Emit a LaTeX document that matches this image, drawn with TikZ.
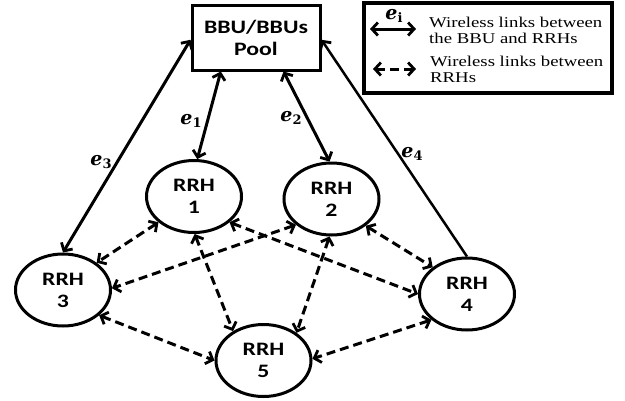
\documentclass[tikz,border=0pt]{standalone}
\usepackage{fontspec}
\usetikzlibrary{shapes.geometric,arrows.meta}
\newfontfamily\rrhfont[FakeStretch=1.25]{Carlito}
\newfontfamily\legfont[FakeStretch=1.25]{Liberation Serif}
\newfontfamily\efont{DejaVu Serif}
\newcommand{\elab}[1]{{\efont\bfseries\itshape e}\raisebox{-0.35ex}{\efont\bfseries\fontsize{13}{13}\selectfont #1}}
\begin{document}
\begin{tikzpicture}[x=1pt,y=-1pt,
  nodefont/.style={font=\rrhfont\bfseries\fontsize{19}{22}\selectfont},
  rrh/.style={ellipse, draw, line width=3pt, minimum width=95pt, minimum height=72pt, inner sep=0pt, align=center, nodefont},
  bbubox/.style={rectangle, draw, line width=3pt, minimum width=128pt, minimum height=65pt, inner sep=0pt, align=center, nodefont},
  tipb/.tip={Straight Barb[length=6pt,width=13pt,line width=2.8pt]},
  link/.style={line width=3pt, tipb-tipb},
  dlink/.style={link, dash pattern=on 9pt off 5pt},
  elabel/.style={inner sep=0pt, font=\fontsize{19}{22}\selectfont},
  legtext/.style={anchor=west, align=left, inner sep=0pt, font=\legfont\fontsize{15}{16}\selectfont},
]
\useasboundingbox (0,0) rectangle (625,400);
% nodes
\node[bbubox] (bbu) at (256,37.5) {BBU/BBUs\\Pool};
\node[rrh] (r1) at (194,196.5) {RRH\\1};
\node[rrh] (r2) at (331.5,199) {RRH\\2};
\node[rrh] (r3) at (63,290) {RRH\\3};
\node[rrh] (r4) at (467,294) {RRH\\4};
\node[rrh] (r5) at (263.5,360.5) {RRH\\5};
% wireless BBU links
\draw[link] (bbu.224.6) -- (r1.85);
\draw[link] (bbu.309.7) -- (r2.93);
\draw[link] (bbu.182) -- (r3.90);
\draw[line width=2.5pt, tipb-] (bbu.358) -- (r4.90);
% labels
\node[elabel] (e1) at (191,121) {\elab{1}};
\node[elabel] (e2) at (291,118) {\elab{2}};
\node[elabel] (e3) at (101,162) {\elab{3}};
\node[elabel] (e4) at (412,154) {\elab{4}};
% RRH links
\draw[dlink] (r1.216) -- (r3.39);
\draw[dlink] (r2.216) -- (r3.2);
\draw[dlink] (r1.324) -- (r4.180);
\draw[dlink] (r2.322) -- (r4.142);
\draw[dlink] (r1.271) -- (r5.136);
\draw[dlink] (r2.267) -- (r5.40);
\draw[dlink] (r3.325) -- (r5.180);
\draw[dlink] (r4.216) -- (r5.2);
% legend
\node[draw, line width=3.5pt, minimum width=248pt, minimum height=90pt, inner sep=0pt] (leg) at (488,48) {};
\coordinate (la1) at (370,29);
\coordinate (la2) at (416,29);
\coordinate (lb1) at (373,69);
\coordinate (lb2) at (416,69);
\draw[link] (la1) -- (la2);
\draw[dlink] (lb1) -- (lb2);
\node[elabel] (ei) at (394,16) {\elab{i}};
\node[legtext] (lt1) at (429,30) {Wireless links between\\the BBU and RRHs};
\node[legtext] (lt2) at (430,69) {Wireless links between\\RRHs};
\end{tikzpicture}
\end{document}
